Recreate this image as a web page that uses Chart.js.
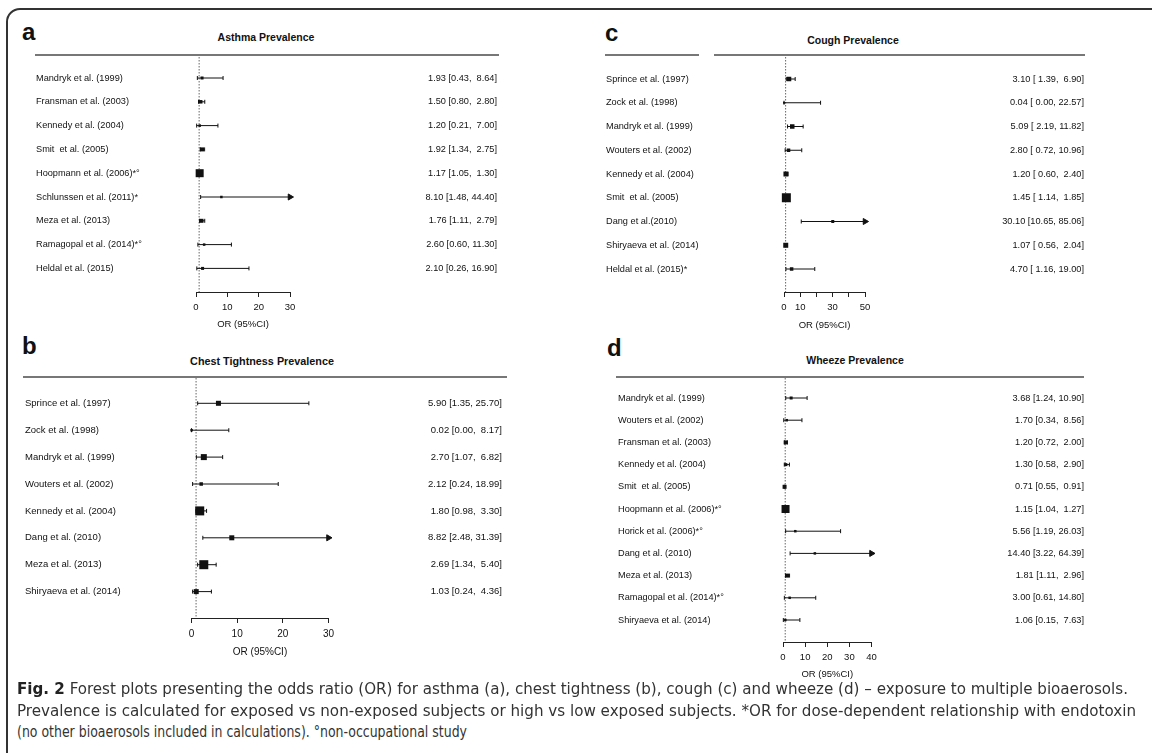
<!DOCTYPE html>
<html>
<head>
<meta charset="utf-8">
<script src="https://cdn.jsdelivr.net/npm/chart.js@4.4.1/dist/chart.umd.min.js"></script>
<style>
body { margin:0; background:#fff; width:1152px; height:753px; overflow:hidden; position:relative; font-family:"Liberation Sans", Arial, sans-serif; }
#frame { position:absolute; left:6px; top:8px; width:1200px; height:800px; border:2px solid #333; border-top-left-radius:14px; }
.letter { position:absolute; font:bold 24px "Liberation Sans", Arial, sans-serif; line-height:24px; color:#111; }
.title { position:absolute; font:bold 10.5px "Liberation Sans", Arial, sans-serif; color:#111; white-space:nowrap; transform:translate(-50%, -50%); }
.rule { position:absolute; height:0; border-top:2px solid #777; }
.panel { position:absolute; }
.caption { position:absolute; left:17px; font-size:15px; line-height:20px; color:#333; white-space:nowrap; transform-origin:0 50%;
  font-family:"Liberation Sans Narrow", "DejaVu Sans Condensed", "Liberation Sans", sans-serif; }
.caption b { color:#222; }
</style>
</head>
<body>
<div id="frame"></div>

<div class="letter" style="left:22px; top:20px;">a</div>
<div class="title" style="left:266px; top:37px;">Asthma Prevalence</div>
<div class="rule" style="left:35px; top:54px; width:464px;"></div>
<canvas id="asthmaChart" class="panel"></canvas>

<div class="letter" style="left:22px; top:334px;">b</div>
<div class="title" style="left:262px; top:361px; font-size:10.8px;">Chest Tightness Prevalence</div>
<div class="rule" style="left:23px; top:376px; width:484px;"></div>
<canvas id="chestChart" class="panel"></canvas>

<div class="letter" style="left:605px; top:21px;">c</div>
<div class="title" style="left:853px; top:40px;">Cough Prevalence</div>
<div class="rule" style="left:605px; top:54px; width:94px;"></div>
<div class="rule" style="left:714px; top:54px; width:371px;"></div>
<canvas id="coughChart" class="panel"></canvas>

<div class="letter" style="left:607px; top:336px;">d</div>
<div class="title" style="left:855px; top:360px;">Wheeze Prevalence</div>
<div class="rule" style="left:616px; top:376px; width:468px;"></div>
<canvas id="wheezeChart" class="panel"></canvas>

<div class="caption" id="cap1" style="top:679px;"><b>Fig. 2</b> Forest plots presenting the odds ratio (OR) for asthma (a), chest tightness (b), cough (c) and wheeze (d) – exposure to multiple bioaerosols.</div>
<div class="caption" id="cap2" style="top:701px;">Prevalence is calculated for exposed vs non-exposed subjects or high vs low exposed subjects. *OR for dose-dependent relationship with endotoxin</div>
<div class="caption" id="cap3" style="top:722px;">(no other bioaerosols included in calculations). °non-occupational study</div>

<script>
// a - asthma
var asthma_studies = ['Mandryk et al. (1999)', 'Fransman et al. (2003)', 'Kennedy et al. (2004)', 'Smit  et al. (2005)',
    'Hoopmann et al. (2006)*°', 'Schlunssen et al. (2011)*', 'Meza et al. (2013)', 'Ramagopal et al. (2014)*°', 'Heldal et al. (2015)'];
var asthma_or = [1.93, 1.50, 1.20, 1.92, 1.17, 8.10, 1.76, 2.60, 2.10];
var asthma_lo = [0.43, 0.80, 0.21, 1.34, 1.05, 1.48, 1.11, 0.60, 0.26];
var asthma_hi = [8.64, 2.80, 7.00, 2.75, 1.30, 44.40, 2.79, 11.30, 16.90];
var asthma_ticks = [0, 10, 20, 30];
var asthma_tick_labels = [0, 10, 20, 30];

// b - chest tightness
var chest_studies = ['Sprince et al. (1997)', 'Zock et al. (1998)', 'Mandryk et al. (1999)', 'Wouters et al. (2002)',
    'Kennedy et al. (2004)', 'Dang et al. (2010)', 'Meza et al. (2013)', 'Shiryaeva et al. (2014)'];
var chest_or = [5.90, 0.02, 2.70, 2.12, 1.80, 8.82, 2.69, 1.03];
var chest_lo = [1.35, 0.00, 1.07, 0.24, 0.98, 2.48, 1.34, 0.24];
var chest_hi = [25.70, 8.17, 6.82, 18.99, 3.30, 31.39, 5.40, 4.36];
var chest_ticks = [0, 10, 20, 30];
var chest_tick_labels = [0, 10, 20, 30];

// c - cough
var cough_studies = ['Sprince et al. (1997)', 'Zock et al. (1998)', 'Mandryk et al. (1999)', 'Wouters et al. (2002)',
    'Kennedy et al. (2004)', 'Smit  et al. (2005)', 'Dang et al.(2010)', 'Shiryaeva et al. (2014)', 'Heldal et al. (2015)*'];
var cough_or = [3.10, 0.04, 5.09, 2.80, 1.20, 1.45, 30.10, 1.07, 4.70];
var cough_lo = [1.39, 0.00, 2.19, 0.72, 0.60, 1.14, 10.65, 0.56, 1.16];
var cough_hi = [6.90, 22.57, 11.82, 10.96, 2.40, 1.85, 85.06, 2.04, 19.00];
var cough_ticks = [0, 10, 20, 30, 40, 50];
var cough_tick_labels = [0, 10, 30, 50];

// d - wheeze
var wheeze_studies = ['Mandryk et al. (1999)', 'Wouters et al. (2002)', 'Fransman et al. (2003)', 'Kennedy et al. (2004)',
    'Smit  et al. (2005)', 'Hoopmann et al. (2006)*°', 'Horick et al. (2006)*°', 'Dang et al. (2010)', 'Meza et al. (2013)',
    'Ramagopal et al. (2014)*°', 'Shiryaeva et al. (2014)'];
var wheeze_or = [3.68, 1.70, 1.20, 1.30, 0.71, 1.15, 5.56, 14.40, 1.81, 3.00, 1.06];
var wheeze_lo = [1.24, 0.34, 0.72, 0.58, 0.55, 1.04, 1.19, 3.22, 1.11, 0.61, 0.15];
var wheeze_hi = [10.90, 8.56, 2.00, 2.90, 0.91, 1.27, 26.03, 64.39, 2.96, 14.80, 7.63];
var wheeze_ticks = [0, 10, 20, 30, 40];
var wheeze_tick_labels = [0, 10, 20, 30, 40];

// marker sizes (square side in px)
var asthma_box = [3, 3.5, 2.5, 4, 8, 2.5, 4, 2.5, 3];
var chest_box = [5, 2.5, 6, 3.5, 9, 5, 9, 5];
var cough_box = [4.5, 2, 4.5, 3.5, 5, 9, 3, 5, 3.5];
var wheeze_box = [3, 2.5, 4, 3, 4, 8, 2.5, 2.5, 4, 2.5, 2.5];

var FONT = 'Liberation Sans';
var INK = '#111';

// R style "or [lo, hi]" text, numbers padded to the widest in each column
function or_text(or, lo, hi) {
    function width(a) { return Math.max.apply(null, a.map(function(v){ return v.toFixed(2).length; })); }
    var wo = width(or), wl = width(lo), wh = width(hi);
    return or.map(function(v, i){
        return v.toFixed(2).padStart(wo) + ' [' + lo[i].toFixed(2).padStart(wl) + ', ' + hi[i].toFixed(2).padStart(wh) + ']';
    });
}

function draw_forest(canvasId, p, g) {
    var n = p.studies.length;
    var yMin = 1 - (g.firstRow - g.top) / g.rowStep;
    var yMax = 1 + (g.axisY - g.firstRow) / g.rowStep;
    var labels_right = or_text(p.or, p.lo, p.hi);
    var padTop = 12, axisH = 40;

    var canvas = document.getElementById(canvasId);
    canvas.width = g.right - g.left;
    canvas.height = padTop + (g.axisY - g.top) + axisH;
    canvas.style.left = g.left + 'px';
    canvas.style.top = (g.top - padTop) + 'px';

    var datasets = [];
    // study squares
    datasets.push({
        type: 'scatter',
        data: p.or.map(function(v, i){ return {x: v, y: i + 1}; }),
        pointStyle: 'rect',
        pointRadius: p.box.map(function(s){ return s / Math.SQRT2; }),
        pointBackgroundColor: INK,
        pointBorderWidth: 0,
        order: 0,
        clip: false
    });
    // confidence intervals, arrow where they run past the axis
    for (var i = 0; i < n; i++) {
        var arrow = p.hi[i] > p.xmax;
        datasets.push({
            type: 'line',
            data: [{x: p.lo[i], y: i + 1}, {x: Math.min(p.hi[i], p.xmax), y: i + 1}],
            borderColor: INK,
            borderWidth: 1,
            pointStyle: ['line', arrow ? 'triangle' : 'line'],
            pointRotation: 90,
            pointRadius: [2, arrow ? 3.5 : 2],
            pointBackgroundColor: INK,
            pointBorderColor: INK,
            pointBorderWidth: 1,
            order: 1,
            clip: false
        });
    }
    // no-effect line at OR = 1
    datasets.push({
        type: 'line',
        data: [{x: 1, y: yMin}, {x: 1, y: yMax}],
        borderColor: '#666',
        borderWidth: 1,
        borderDash: [1.5, 1.5],
        pointRadius: 0,
        order: 2,
        clip: false
    });

    var rowTicks = function(scale) {
        scale.ticks = p.studies.map(function(_, i){ return {value: i + 1}; });
    };

    new Chart(canvas, {
        type: 'scatter',
        data: {datasets: datasets},
        options: {
            responsive: false,
            animation: false,
            events: [],
            layout: {padding: {top: padTop, left: 0, right: 0, bottom: 0}},
            plugins: {legend: {display: false}, tooltip: {enabled: false}},
            scales: {
                x: {
                    type: 'linear',
                    min: 0,
                    max: p.xmax,
                    afterBuildTicks: function(scale){ scale.ticks = p.ticks.map(function(v){ return {value: v}; }); },
                    afterFit: function(scale){ scale.height = axisH; },
                    ticks: {
                        autoSkip: false,
                        maxRotation: 0,
                        padding: 5,
                        color: INK,
                        font: {family: FONT, size: p.tickSize},
                        callback: function(v){ return p.tickLabels.indexOf(v) >= 0 ? String(v) : ''; }
                    },
                    grid: {drawOnChartArea: false, drawTicks: true, tickLength: 5, color: '#222'},
                    border: {display: true, color: '#222', width: 1},
                    title: {display: true, text: 'OR (95%CI)', color: INK,
                        font: {family: FONT, size: p.tickSize}, padding: {top: 0, bottom: g.titlePad}}
                },
                y: {
                    type: 'linear',
                    position: 'left',
                    reverse: true,
                    min: yMin,
                    max: yMax,
                    afterBuildTicks: rowTicks,
                    afterFit: function(scale){ scale.width = g.plotLeft - g.left; },
                    ticks: {
                        autoSkip: false,
                        crossAlign: 'far',
                        color: INK,
                        font: {family: FONT, size: p.fontSize},
                        callback: function(v){ return p.studies[v - 1]; }
                    },
                    grid: {display: false},
                    border: {display: false}
                },
                y2: {
                    type: 'linear',
                    position: 'right',
                    reverse: true,
                    min: yMin,
                    max: yMax,
                    afterBuildTicks: rowTicks,
                    afterFit: function(scale){ scale.width = g.right - g.plotRight; },
                    ticks: {
                        autoSkip: false,
                        crossAlign: 'far',
                        color: INK,
                        font: {family: FONT, size: p.fontSize},
                        callback: function(v){ return labels_right[v - 1]; }
                    },
                    grid: {display: false},
                    border: {display: false}
                }
            }
        }
    });
}

draw_forest('asthmaChart',
    {studies: asthma_studies, or: asthma_or, lo: asthma_lo, hi: asthma_hi, box: asthma_box,
     xmax: 30, ticks: asthma_ticks, tickLabels: asthma_tick_labels, fontSize: 9.2, tickSize: 9.5},
    {left: 36, plotLeft: 196, plotRight: 290, right: 497, top: 57, axisY: 292, firstRow: 78, rowStep: 23.8, titlePad: 2});

draw_forest('chestChart',
    {studies: chest_studies, or: chest_or, lo: chest_lo, hi: chest_hi, box: chest_box,
     xmax: 30, ticks: chest_ticks, tickLabels: chest_tick_labels, fontSize: 9.5, tickSize: 10},
    {left: 25, plotLeft: 191.5, plotRight: 328.5, right: 502, top: 378, axisY: 618, firstRow: 403.3, rowStep: 26.9, titlePad: 0});

draw_forest('coughChart',
    {studies: cough_studies, or: cough_or, lo: cough_lo, hi: cough_hi, box: cough_box,
     xmax: 50, ticks: cough_ticks, tickLabels: cough_tick_labels, fontSize: 9.2, tickSize: 9.5},
    {left: 606, plotLeft: 784, plotRight: 865, right: 1084, top: 57, axisY: 292, firstRow: 79, rowStep: 23.75, titlePad: 1});

draw_forest('wheezeChart',
    {studies: wheeze_studies, or: wheeze_or, lo: wheeze_lo, hi: wheeze_hi, box: wheeze_box,
     xmax: 40, ticks: wheeze_ticks, tickLabels: wheeze_tick_labels, fontSize: 9.2, tickSize: 9.5},
    {left: 618, plotLeft: 783, plotRight: 871.5, right: 1084, top: 378, axisY: 642, firstRow: 398, rowStep: 22.2, titlePad: 2});

// squeeze caption lines to the width they have in the figure
var cap_widths = {cap1: 1111, cap2: 1119, cap3: 450};
for (var id in cap_widths) {
    var el = document.getElementById(id);
    var w = el.getBoundingClientRect().width;
    el.style.transform = 'scaleX(' + (cap_widths[id] / w) + ')';
}
</script>
</body>
</html>
